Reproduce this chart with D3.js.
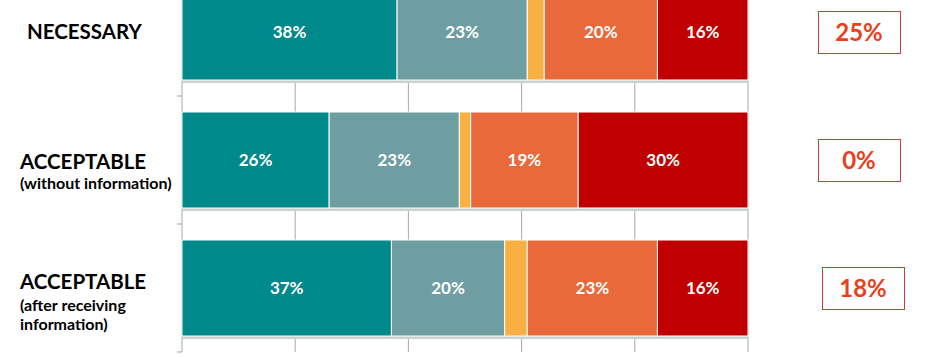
<!DOCTYPE html>
<html>
<head>
<meta charset="utf-8">
<script src="https://cdn.jsdelivr.net/npm/d3@7"></script>
<style>
  html, body { margin: 0; padding: 0; background: #ffffff; }
  svg { display: block; font-family: Lato, "Open Sans", sans-serif; }
</style>
</head>
<body>
<svg id="chart" width="951" height="358"></svg>
<script>
// ---- data ----
const categories = ["NECESSARY", "ACCEPTABLE (without information)", "ACCEPTABLE (after receiving information)"];
const labelLines = [["NECESSARY"], ["ACCEPTABLE", "(without information)"], ["ACCEPTABLE", "(after receiving", "information)"]];
const seriesNames = ["s1", "s2", "s3", "s4", "s5"];
const s1 = [38, 26, 37];
const s2 = [23, 23, 20];
const s3 = [3, 2, 4];
const s4 = [20, 19, 23];
const s5 = [16, 30, 16];
const sideValues = [25, 0, 18];
const xTicks = [0, 20, 40, 60, 80, 100];
const colors = ["#00898a", "#6e9ea2", "#f7b041", "#e9693b", "#c00000"];

const seriesValues = [s1, s2, s3, s4, s5];
const rows = categories.map((c, i) => {
  const r = { cat: c };
  seriesNames.forEach((s, j) => r[s] = seriesValues[j][i]);
  return r;
});

const svg = d3.select("#chart");
const x = d3.scaleLinear().domain([0, 100]).range([182, 748]);
const y = d3.scaleBand().domain(categories).range([-32, 352]).paddingInner(0.25).paddingOuter(0.125);

// gridlines
svg.append("g")
  .selectAll("line")
  .data(xTicks.slice(1))
  .join("line")
  .attr("x1", d => x(d)).attr("x2", d => x(d))
  .attr("y1", 0).attr("y2", 352)
  .attr("stroke", "#a9a9a9").attr("stroke-width", 1);

// left axis
const yAxisG = svg.append("g");
yAxisG.append("line")
  .attr("x1", x(0)).attr("x2", x(0))
  .attr("y1", 0).attr("y2", 352)
  .attr("stroke", "#a9a9a9");
yAxisG.selectAll("line.tick")
  .data(categories)
  .join("line")
  .attr("class", "tick")
  .attr("x1", x(0) - 5).attr("x2", x(0))
  .attr("y1", d => y(d) + y.bandwidth() + y.step() * 0.125)
  .attr("y2", d => y(d) + y.bandwidth() + y.step() * 0.125)
  .attr("stroke", "#a9a9a9");

// stacked bars
const stack = d3.stack().keys(seriesNames);
const stacked = stack(rows);

// shadow
svg.append("g")
  .selectAll("rect")
  .data(rows)
  .join("rect")
  .attr("x", x(0))
  .attr("y", d => y(d.cat) + y.bandwidth())
  .attr("width", x(100) - x(0))
  .attr("height", 3)
  .attr("fill", "#c9d3d3");

const layers = svg.append("g")
  .selectAll("g")
  .data(stacked)
  .join("g")
  .attr("fill", (d, i) => colors[i]);

layers.selectAll("rect")
  .data(d => d.map(p => ({ p, cat: p.data.cat })))
  .join("rect")
  .attr("x", d => x(d.p[0]))
  .attr("y", d => y(d.cat))
  .attr("width", d => x(d.p[1]) - x(d.p[0]))
  .attr("height", y.bandwidth())
  .attr("stroke", "#ffffff")
  .attr("stroke-width", 1);

// value labels
layers.selectAll("text")
  .data(d => d.map(p => ({ p, cat: p.data.cat, v: p[1] - p[0] })).filter(d => d.v >= 10))
  .join("text")
  .attr("x", d => (x(d.p[0]) + x(d.p[1])) / 2)
  .attr("y", d => y(d.cat) + y.bandwidth() / 2)
  .attr("dy", "0.35em")
  .attr("text-anchor", "middle")
  .attr("fill", "#ffffff")
  .attr("font-weight", "bold")
  .attr("font-size", 17)
  .text(d => Math.round(d.v) + "%");

// category labels
const catG = svg.append("g");
const labelPos = [
  [{ x: 27, y: 39, size: 20.5 }],
  [{ x: 20, y: 169, size: 20.5 }, { x: 20, y: 189, size: 16 }],
  [{ x: 20, y: 289, size: 20.5 }, { x: 20, y: 311, size: 16 }, { x: 20, y: 330, size: 16 }]
];
labelLines.forEach((lines, i) => {
  lines.forEach((t, j) => {
    catG.append("text")
      .attr("x", labelPos[i][j].x)
      .attr("y", labelPos[i][j].y)
      .attr("font-size", labelPos[i][j].size)
      .attr("font-weight", "bold")
      .attr("fill", "#000000")
      .text(t);
  });
});

// side boxes
const boxX = [818, 818, 822];
const sideG = svg.append("g");
sideValues.forEach((v, i) => {
  const cy = y(categories[i]) + y.bandwidth() / 2;
  sideG.append("rect")
    .attr("x", boxX[i] + 0.5).attr("y", cy - 21 + 0.5)
    .attr("width", 82).attr("height", 42)
    .attr("fill", "#ffffff")
    .attr("stroke", "#cc3b3b").attr("stroke-width", 1);
  sideG.append("text")
    .attr("x", boxX[i] + 41)
    .attr("y", cy)
    .attr("dy", "0.36em")
    .attr("text-anchor", "middle")
    .attr("font-size", 24)
    .attr("font-weight", "bold")
    .attr("fill", "#e8401c")
    .text(v + "%");
});
</script>
</body>
</html>
